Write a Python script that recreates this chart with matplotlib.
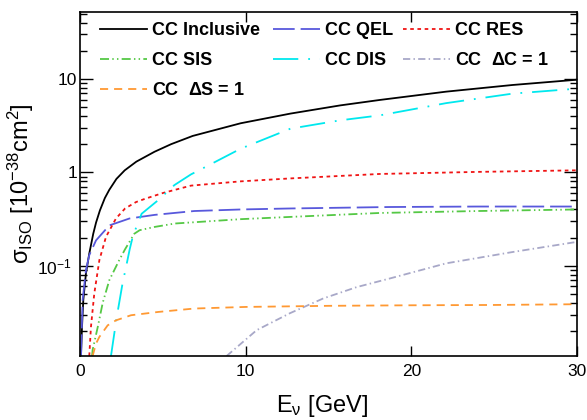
import matplotlib
matplotlib.use("Agg")
import matplotlib.pyplot as plt
from matplotlib.ticker import LogLocator, FixedLocator, FixedFormatter, NullFormatter

plt.rcParams['font.family'] = ['Liberation Sans', 'DejaVu Sans']
plt.rcParams['mathtext.fontset'] = 'custom'
plt.rcParams['mathtext.rm'] = 'Liberation Sans'
plt.rcParams['mathtext.it'] = 'Liberation Sans:italic'
plt.rcParams['mathtext.bf'] = 'Liberation Sans:bold'

# ---------------- data ----------------
e_incl = [0.06, 0.12, 0.2, 0.36, 0.56, 0.8, 0.97, 1.2, 1.5, 1.77, 2.2, 2.7, 3.4, 4.5, 5.5, 6.8, 9.7, 12.7, 15.7, 18.1, 22.1, 26.1, 30]
s_incl = [0.0108, 0.022, 0.043, 0.083, 0.135, 0.22, 0.29, 0.39, 0.53, 0.65, 0.85, 1.05, 1.3, 1.66, 2.0, 2.45, 3.35, 4.25, 5.2, 5.95, 7.3, 8.6, 9.8]

e_qel = [0.06, 0.16, 0.36, 0.56, 0.97, 1.77, 2.98, 4.5, 6.9, 9.7, 12.7, 18.7, 24, 30]
s_qel = [0.0108, 0.043, 0.09, 0.13, 0.187, 0.27, 0.32, 0.35, 0.385, 0.40, 0.41, 0.425, 0.43, 0.43]

e_res = [0.56, 0.66, 0.86, 1.17, 1.57, 2.17, 2.72, 3.38, 3.92, 5.0, 6.7, 9.7, 12.7, 18.1, 24, 30]
s_res = [0.0108, 0.022, 0.05, 0.115, 0.204, 0.32, 0.41, 0.48, 0.52, 0.6, 0.72, 0.8, 0.86, 0.96, 1.01, 1.05]

e_sis = [0.73, 0.76, 1.07, 1.37, 1.77, 2.37, 2.72, 3.28, 3.6, 4.5, 5.73, 6.64, 9.7, 12.7, 18.1, 24, 30]
s_sis = [0.0108, 0.0125, 0.022, 0.04, 0.07, 0.115, 0.15, 0.22, 0.24, 0.26, 0.283, 0.29, 0.315, 0.333, 0.367, 0.385, 0.40]

e_dis = [1.87, 2.2, 2.57, 2.78, 3.0, 3.2, 3.72, 4.7, 5.7, 6.7, 7.4, 9.7, 12.7, 15.7, 18.1, 22.1, 26.1, 30]
s_dis = [0.0108, 0.027, 0.065, 0.097, 0.15, 0.21, 0.36, 0.50, 0.73, 0.95, 1.1, 1.79, 2.93, 3.6, 4.07, 5.5, 6.95, 7.86]

e_dc = [8.85, 10.66, 12.67, 14.68, 16.7, 18.7, 22.1, 26.1, 30]
s_dc = [0.0108, 0.0204, 0.031, 0.0446, 0.059, 0.073, 0.106, 0.14, 0.18]

e_ds = [0.76, 0.97, 1.17, 1.67, 2.17, 3.08, 4.73, 6.9, 10, 15, 20, 25, 30]
s_ds = [0.0108, 0.0147, 0.0173, 0.023, 0.026, 0.0295, 0.032, 0.0348, 0.0362, 0.0372, 0.0377, 0.038, 0.0387]

labels = ['CC Inclusive', 'CC QEL', 'CC RES', 'CC SIS', 'CC DIS',
          r'CC  $\mathbf{\Delta}$C = 1', r'CC  $\mathbf{\Delta}$S = 1']
x_ticks = [0, 10, 20, 30]
y_ticks = [0.1, 1, 10]
y_ticklabels = [r'$10^{-1}$  ', '1', '10']

# ---------------- figure ----------------
fig = plt.figure(figsize=(5.87, 4.2), dpi=100)
ax = fig.add_axes([80/587, 1-356/420, 497/587, 344/420])

lw = 1.3
styles = [
    dict(color='black', ls='-'),
    dict(color='#5858dc', ls=(0, (12, 3.3))),
    dict(color='#f01414', ls=(0, (2, 2))),
    dict(color='#55c845', ls=(0, (5, 1.8, 0.8, 1.8, 0.8, 1.8))),
    dict(color='#00e8ee', ls=(0, (14, 5.5, 1, 5.5))),
    dict(color='#a8a8c8', ls=(0, (4, 1.8, 0.8, 1.8))),
    dict(color='#ff9933', ls=(0, (4.5, 3.3))),
]
series = [(e_incl, s_incl), (e_qel, s_qel), (e_res, s_res), (e_sis, s_sis),
          (e_dis, s_dis), (e_dc, s_dc), (e_ds, s_ds)]

handles = []
for (ex, sy), st, lab in zip(series, styles, labels):
    h, = ax.plot(ex, sy, lw=lw, label=lab, **st)
    handles.append(h)

ax.set_yscale('log')
ax.set_xlim(0, 30)
ax.set_ylim(0.0108, 52)

ax.xaxis.set_major_locator(FixedLocator(x_ticks))
ax.set_xticklabels([str(t) for t in x_ticks])
ax.yaxis.set_major_locator(FixedLocator(y_ticks))
ax.yaxis.set_major_formatter(FixedFormatter(y_ticklabels))
ax.yaxis.set_minor_locator(LogLocator(base=10, subs=[2, 3, 4, 5, 6, 7, 8, 9], numticks=20))
ax.yaxis.set_minor_formatter(NullFormatter())

ax.tick_params(axis='x', which='major', direction='in', top=True, length=7.2, width=1,
               labelsize=12.5, pad=6)
ax.tick_params(axis='y', which='major', direction='in', right=True, length=9.5, width=1,
               labelsize=12.5, pad=2)
ax.tick_params(axis='y', which='minor', direction='in', right=True, length=5, width=1)
for sp in ax.spines.values():
    sp.set_linewidth(1.2)

ax.set_xlabel(r'E$_{\rm ν}$ [GeV]', fontsize=17)
ax.xaxis.set_label_coords(0.487, -0.108)
ax.set_ylabel(r'σ$_{\rm ISO}$ [10$^{-38}$cm$^{2}$]', fontsize=17)
ax.yaxis.set_label_coords(-0.088, 0.5)

# legend: three columns, row-major order
cols = [[0, 3, 6], [1, 4], [2, 5]]
col_x = [100, 273, 403]
for cidx, xpix in zip(cols, col_x):
    fig.legend([handles[i] for i in cidx], [labels[i] for i in cidx],
               loc='upper left', bbox_to_anchor=(xpix/587, 1-22/420),
               frameon=False, borderpad=0, borderaxespad=0,
               handlelength=2.6, handletextpad=0.3, labelspacing=0.72,
               prop={'weight': 'bold', 'size': 13})

fig.savefig('out.png', dpi=100)
